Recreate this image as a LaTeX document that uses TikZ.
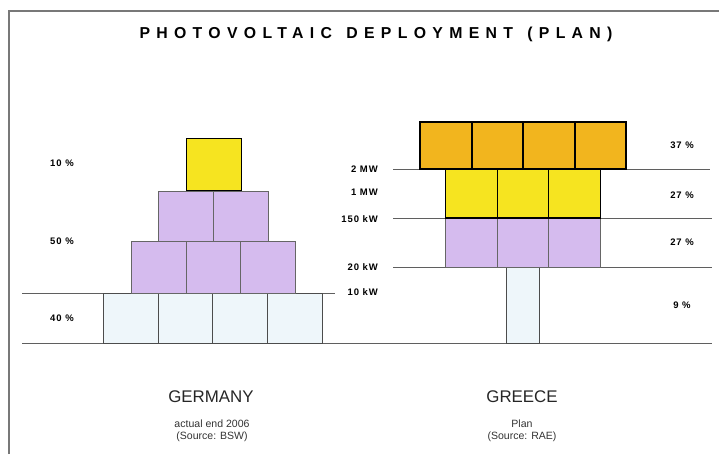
\documentclass[tikz,border=0pt]{standalone}
\usepackage{fontspec}
\setmainfont{Liberation Sans}
\newfontfamily\titlefont[LetterSpace=40]{Liberation Sans}
\newfontfamily\lblfont[LetterSpace=10]{Liberation Sans}
\usetikzlibrary{positioning}
\definecolor{pvyellow}{RGB}{246,228,32}
\definecolor{pvorange}{RGB}{242,181,30}
\definecolor{pvpurple}{RGB}{213,187,238}
\definecolor{pvlight}{RGB}{238,246,250}
\definecolor{framegray}{RGB}{120,120,120}
\definecolor{linegray}{RGB}{95,95,95}
\tikzset{
	frame line/.style={draw=framegray,line width=1.1pt},
	level line/.style={draw=linegray,line width=0.5pt},
	cell/.style={draw,inner sep=0pt,outer sep=0pt},
	de cell/.style={cell,minimum width=1.1cm},
	gr cell/.style={cell,minimum width=1.03cm},
	pct/.style={font=\lblfont\bfseries\fontsize{5.4}{6}\selectfont},
	kw/.style={font=\lblfont\bfseries\fontsize{5.4}{6}\selectfont,anchor=east},
	country/.style={font=\fontsize{9.6}{11}\selectfont,text=black!85},
	source/.style={font=\fontsize{6}{7}\selectfont,align=center,text=black!80}
}

\begin{document}
\begin{tikzpicture}[x=0.02cm,y=-0.02cm]
	\useasboundingbox (0,0) rectangle (719,454);
	% frame and title
	\coordinate (frame sw) at (9,454);
	\coordinate (frame nw) at (9,11);
	\coordinate (frame ne) at (719,11);
	\draw[frame line] (frame sw) -- (frame nw) -- (frame ne);
	\node (title) at (376,34.5) {\titlefont\bfseries\fontsize{9}{10}\selectfont PHOTOVOLTAIC\hspace{0.9em}DEPLOYMENT\hspace{0.9em}(PLAN)};
	% level lines
	\coordinate (de base w) at (22,293);
	\coordinate (de base e) at (335,293);
	\coordinate (floor w) at (22,343);
	\coordinate (floor e) at (712,343);
	\coordinate (mw2 w) at (393,169);
	\coordinate (mw2 e) at (710,169);
	\coordinate (kw150 w) at (393,218);
	\coordinate (kw150 e) at (712,218);
	\coordinate (kw20 w) at (393,267);
	\coordinate (kw20 e) at (712,267);
	\draw[level line] (de base w) -- (de base e);
	\draw[level line] (floor w) -- (floor e);
	\draw[level line] (mw2 w) -- (mw2 e);
	\draw[level line] (kw150 w) -- (kw150 e);
	\draw[level line] (kw20 w) -- (kw20 e);
	% germany
	\node [de cell,fill=pvlight,draw=black!70,minimum height=1cm] (de l1) at (131,318) {};
	\node [de cell,fill=pvlight,draw=black!70,minimum height=1cm] (de l2) at (185.5,318) {};
	\node [de cell,fill=pvlight,draw=black!70,minimum height=1cm] (de l3) at (240,318) {};
	\node [de cell,fill=pvlight,draw=black!70,minimum height=1cm] (de l4) at (294.5,318) {};
	\node [de cell,fill=pvpurple,draw=black!60,minimum height=1.04cm] (de p1) at (158.5,267) {};
	\node [de cell,fill=pvpurple,draw=black!60,minimum height=1.04cm] (de p2) at (213.5,267) {};
	\node [de cell,fill=pvpurple,draw=black!60,minimum height=1.04cm] (de p3) at (268,267) {};
	\node [de cell,fill=pvpurple,draw=black!60,minimum height=1cm] (de p4) at (186,216) {};
	\node [de cell,fill=pvpurple,draw=black!60,minimum height=1cm] (de p5) at (241,216) {};
	\node [de cell,fill=pvyellow,draw=black,line width=0.9pt,minimum height=1.04cm] (de y1) at (214,164.5) {};
	\node [pct] (de pct10) at (62,163) {10 \%};
	\node [pct] (de pct50) at (62,241) {50 \%};
	\node [pct] (de pct40) at (62,318) {40 \%};
	% greece
	\node [cell,fill=pvlight,draw=black!70,minimum width=0.66cm,minimum height=1.52cm] (gr l1) at (522.5,305) {};
	\node [gr cell,fill=pvpurple,draw=black!60,minimum height=0.98cm] (gr p1) at (471.5,242.5) {};
	\node [gr cell,fill=pvpurple,draw=black!60,minimum height=0.98cm] (gr p2) at (523,242.5) {};
	\node [gr cell,fill=pvpurple,draw=black!60,minimum height=0.98cm] (gr p3) at (574.5,242.5) {};
	\node [gr cell,fill=pvyellow,draw=black,line width=0.7pt,minimum height=0.98cm] (gr y1) at (471.5,193.5) {};
	\node [gr cell,fill=pvyellow,draw=black,line width=0.7pt,minimum height=0.98cm] (gr y2) at (523,193.5) {};
	\node [gr cell,fill=pvyellow,draw=black,line width=0.7pt,minimum height=0.98cm] (gr y3) at (574.5,193.5) {};
	\node [gr cell,fill=pvorange,draw=black,line width=0.9pt,minimum height=0.94cm] (gr o1) at (446,145.5) {};
	\node [gr cell,fill=pvorange,draw=black,line width=0.9pt,minimum height=0.94cm] (gr o2) at (497.5,145.5) {};
	\node [gr cell,fill=pvorange,draw=black,line width=0.9pt,minimum height=0.94cm] (gr o3) at (549,145.5) {};
	\node [gr cell,fill=pvorange,draw=black,line width=0.9pt,minimum height=0.94cm] (gr o4) at (600.5,145.5) {};
	\node [kw] (kw a) at (384,169) {2 MW};
	\node [kw] (kw b) at (384,192) {1 MW};
	\node [kw] (kw c) at (384,219) {150 kW};
	\node [kw] (kw d) at (384,267) {20 kW};
	\node [kw] (kw e) at (384,292) {10 kW};
	\node [pct] (gr pct37) at (682,145) {37 \%};
	\node [pct] (gr pct27a) at (682,195) {27 \%};
	\node [pct] (gr pct27b) at (682,242) {27 \%};
	\node [pct] (gr pct9) at (682,305) {9 \%};
	% captions
	\node [country] (de name) at (211,397) {GERMANY};
	\node [source] (de src) at (212,431) {actual end 2006\\(Source: BSW)};
	\node [country] (gr name) at (522,397) {GREECE};
	\node [source] (gr src) at (522,431) {Plan\\(Source: RAE)};
\end{tikzpicture}
\end{document}
